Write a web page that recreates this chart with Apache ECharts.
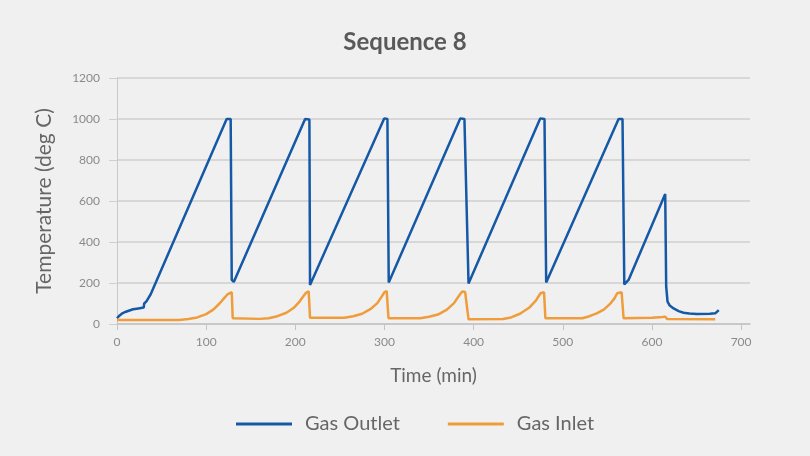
<!DOCTYPE html>
<html>
<head>
<meta charset="utf-8">
<script src="https://cdn.jsdelivr.net/npm/echarts@6/dist/echarts.min.js"></script>
<style>
  html, body { margin: 0; padding: 0; background: #f0f0f0; }
  #main { width: 810px; height: 456px; }
</style>
</head>
<body>
<div id="main"></div>
<script>
// Gas Outlet readings (minutes, deg C)
var outletTime = [0, 3, 6, 10, 14, 18, 24, 30, 30.5, 32, 33, 35, 37.8, 123, 127.5, 128.7, 131, 132.4,
    211, 215.8, 216.5, 299.7, 303.3, 304.8, 385, 389.7, 394.3, 474.7, 479.5, 481.4,
    562.6, 567, 569, 573.8, 614.9, 616, 617.5, 620, 624.3, 630, 635.5, 642, 650.5, 665, 671, 673, 675];
var outletTemp = [28, 42, 52, 60, 66, 72, 76, 80, 100, 104, 110, 125, 145, 1000, 1000, 215, 205, 202,
    1000, 998, 190, 1003, 1000, 202, 1003, 1000, 198, 1003, 1000, 202,
    1000, 1000, 193, 215, 634, 182, 109, 90, 76, 63, 55, 51, 49, 50, 52, 58, 68];

// Gas Inlet readings (minutes, deg C)
var inletTime = [0, 40, 70, 80, 90, 100, 108, 115, 120, 124, 126, 128.7, 129.8,
    131, 160, 170, 180, 190, 198, 204, 209, 212, 215, 216.5,
    218, 255, 265, 275, 285, 292, 297, 300, 302.5, 304.5,
    306, 340, 350, 360, 370, 378, 384, 387, 390.5, 394.3,
    396, 433, 442, 452, 463, 470, 475, 479, 480.5,
    482, 522, 530, 538, 546, 553, 558, 561, 566, 568.2,
    570, 600, 612, 615, 617, 671];
var inletTemp = [20, 20, 20, 24, 32, 48, 70, 100, 125, 145, 152, 155, 28,
    25, 25, 28, 38, 55, 78, 105, 135, 152, 160, 30,
    28, 30, 38, 50, 75, 102, 135, 155, 160, 28,
    25, 28, 35, 46, 70, 102, 140, 158, 156, 23,
    23, 24, 32, 50, 82, 115, 150, 155, 28,
    27, 28, 38, 52, 70, 98, 125, 150, 155, 28,
    27, 30, 34, 36, 24, 23];

var xTicks = [0, 100, 200, 300, 400, 500, 600, 700];

var zip = function(xs, ys) {
    var res = [];
    for (var i = 0; i < xs.length; i++) {
        res.push([xs[i], ys[i]]);
    }
    return res;
};

var chart = echarts.init(document.getElementById('main'));

var option = {
    backgroundColor: '#f0f0f0',
    animation: false,
    title: {
        text: 'Sequence 8',
        left: 'center',
        top: 25,
        textStyle: {
            fontFamily: 'Lato',
            fontSize: 24,
            fontWeight: 'bold',
            color: '#595959'
        }
    },
    legend: {
        left: 231,
        top: 409,
        icon: 'rect',
        itemWidth: 56,
        itemHeight: 3,
        itemGap: 48,
        textStyle: {
            fontFamily: 'Lato',
            fontSize: 20,
            color: '#666',
            padding: [0, 0, 0, 8]
        },
        data: ['Gas Outlet', 'Gas Inlet']
    },
    grid: {
        left: 117,
        right: 60,
        top: 78,
        bottom: 132
    },
    xAxis: {
        type: 'value',
        min: 0,
        max: 710,
        name: 'Time (min)',
        nameLocation: 'middle',
        nameGap: 42,
        nameTextStyle: { fontFamily: 'Lato', fontSize: 19, color: '#666' },
        axisLine: { lineStyle: { color: '#c4c4c4', width: 1.5 } },
        axisTick: { show: true, length: 6, customValues: xTicks, lineStyle: { color: '#c4c4c4' } },
        axisLabel: { customValues: xTicks, margin: 12, fontFamily: 'Lato', fontSize: 12, color: '#8a8a8a' },
        splitLine: { show: false }
    },
    yAxis: {
        type: 'value',
        min: 0,
        max: 1200,
        interval: 200,
        name: 'Temperature (deg C)',
        nameLocation: 'middle',
        nameGap: 62,
        nameTextStyle: { fontFamily: 'Lato', fontSize: 21, color: '#666' },
        axisLine: { show: true, lineStyle: { color: '#c8c8c8', width: 1 } },
        axisTick: { show: true, length: 8, lineStyle: { color: '#cfcfcf' } },
        axisLabel: {
            margin: 17,
            fontFamily: 'Lato',
            fontSize: 12,
            color: '#8a8a8a',
            formatter: function(v) { return String(v); }
        },
        splitLine: { lineStyle: { color: '#cfcfcf', width: 1.5 } }
    },
    series: [{
        name: 'Gas Outlet',
        type: 'line',
        symbol: 'none',
        color: '#1558a6',
        lineStyle: { width: 2.5, color: '#1558a6' },
        data: zip(outletTime, outletTemp)
    }, {
        name: 'Gas Inlet',
        type: 'line',
        symbol: 'none',
        color: '#f09c3a',
        lineStyle: { width: 2.5, color: '#f09c3a' },
        data: zip(inletTime, inletTemp)
    }]
};

chart.setOption(option);
</script>
</body>
</html>
